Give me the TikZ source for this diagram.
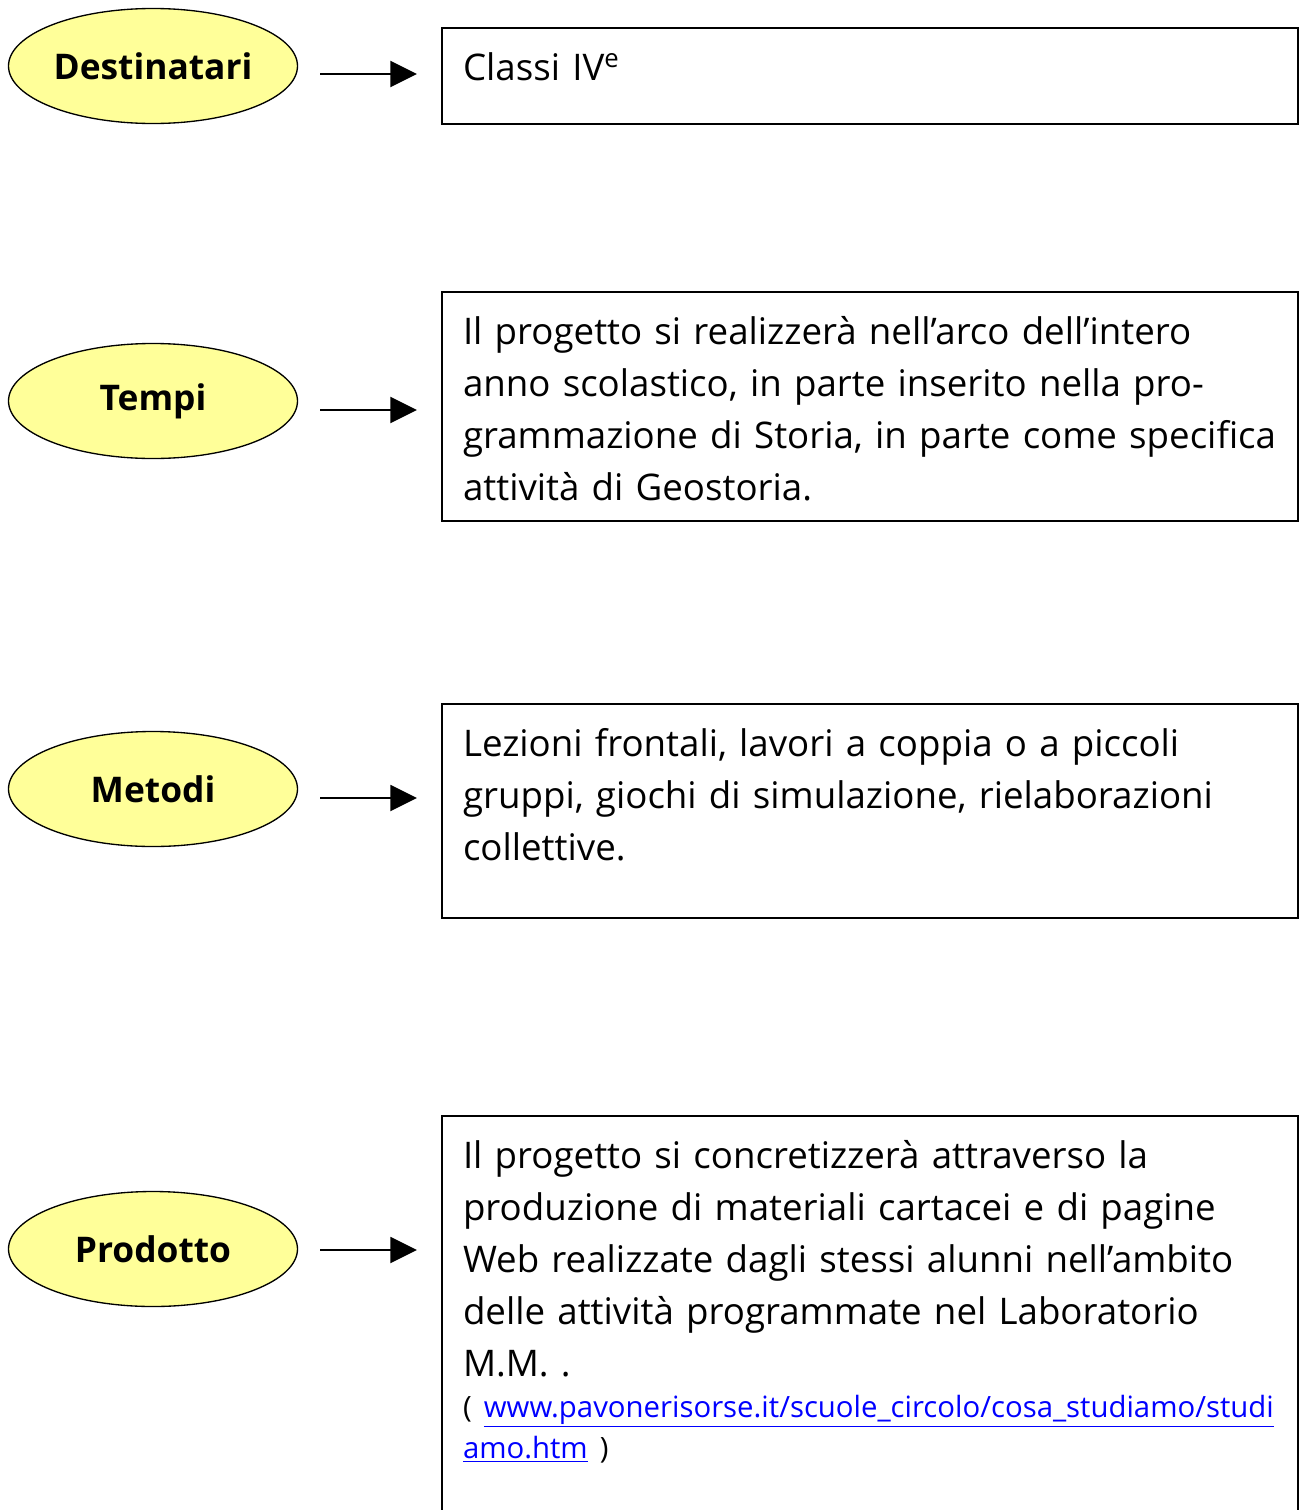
\documentclass[tikz,border=0pt]{standalone}
\usepackage{fontspec}
\setmainfont{Open Sans}
\usepackage{xcolor}
\usetikzlibrary{arrows.meta,positioning,shapes.geometric}
\definecolor{topicfill}{HTML}{FFFF99}
\definecolor{linkblue}{HTML}{0000FF}
\newcommand{\bodyfont}{\fontsize{27.5}{39}\selectfont}
\newcommand{\linkfont}{\fontsize{22}{31}\selectfont}

\begin{document}
\begin{tikzpicture}[
  x=0.75pt, y=-0.75pt,
  topic/.style={draw, ellipse, fill=topicfill, line width=1pt, inner sep=1pt, minimum width=216.75pt, minimum height=86.25pt, font=\bfseries\fontsize{26.5}{30}\selectfont},
  info/.style={draw, line width=1.5pt, anchor=north west, text width=610.5pt, inner xsep=15.75pt, inner ysep=0pt, text height=39pt, align=left, font=\bodyfont},
  arrow/.style={-{Triangle[length=20pt,width=19.5pt]}, line width=1.5pt, shorten <=16.5pt, shorten >=18pt}
]
\useasboundingbox (0,0) rectangle (1299,1510);
% topics on the left
\node[topic] (dest) at (153,66) {Destinatari};
\node[topic] (tempi) at (153,401) {Tempi};
\node[topic] (metodi) at (153,789) {Metodi};
\node[topic] (prod) at (153,1249) {Prodotto};
% boxes on the right
\node[info, text depth=33pt] (destbox) at (441,27) {Classi IV\textsuperscript{e}};
\node[info, text depth=132.75pt] (tempibox) at (441,291) {Il progetto si realizzerà nell’arco dell’intero\\anno scolastico, in parte inserito nella pro-\\grammazione di Storia, in parte come specifica\\attività di Geostoria.};
\node[info, text depth=121.5pt] (metodibox) at (441,703) {Lezioni frontali, lavori a coppia o a piccoli\\gruppi, giochi di simulazione, rielaborazioni\\collettive.};
\node[info, text depth=310pt] (prodbox) at (441,1115) {Il progetto si concretizzerà attraverso la\\produzione di materiali cartacei e di pagine\\Web realizzate dagli stessi alunni nell’ambito\\delle attività programmate nel Laboratorio\\M.M. .\\\linkfont ( \textcolor{linkblue}{\underline{www.pavonerisorse.it/scuole\_circolo/cosa\_studiamo/studi}}\\[-8pt]\textcolor{linkblue}{\underline{amo.htm}} )};
% arrows
\foreach \x/\y/\d in {dest/destbox/-6pt,tempi/tempibox/-6.75pt,metodi/metodibox/-6.75pt,prod/prodbox/-0.75pt}
  \draw[arrow] ([yshift=\d]\x.east) -- ([yshift=\d]\x.east -| \y.west);
\end{tikzpicture}
\end{document}
